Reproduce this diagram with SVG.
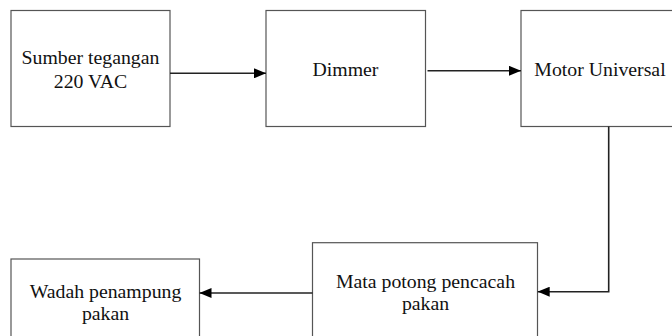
<svg xmlns="http://www.w3.org/2000/svg" width="672" height="336" viewBox="0 0 672 336">
<style>
.box{fill:#fff;stroke:#555;stroke-width:1.2}
.lbl{font-family:"Liberation Serif","Times New Roman",serif;font-size:19.8px;fill:#111;text-anchor:middle}
.con{fill:none;stroke:#222;stroke-width:1.6}
</style>
<defs>
<marker id="ah" viewBox="0 0 12 10" refX="12" refY="5" markerWidth="12" markerHeight="10" markerUnits="userSpaceOnUse" orient="auto">
<path d="M0,0 L12,5 L0,10 Z" fill="#000"/>
</marker>
</defs>
<rect width="672" height="336" fill="#fff"/>
<g id="sumber">
<rect class="box" x="11" y="10.5" width="159" height="116"/>
<text class="lbl" x="90.5" y="63.5">Sumber tegangan</text>
<text class="lbl" x="90.5" y="87.5">220 VAC</text>
</g>
<g id="dimmer">
<rect class="box" x="266" y="10.5" width="159.5" height="116"/>
<text class="lbl" x="345.5" y="76">Dimmer</text>
</g>
<g id="motor">
<rect class="box" x="521" y="10.5" width="160" height="116"/>
<text class="lbl" x="600" y="76">Motor Universal</text>
</g>
<g id="mata">
<rect class="box" x="312.5" y="242.7" width="225" height="110"/>
<text class="lbl" x="425.5" y="287.5">Mata potong pencacah</text>
<text class="lbl" x="425.5" y="309.5">pakan</text>
</g>
<g id="wadah">
<rect class="box" x="11" y="259" width="188.5" height="100"/>
<text class="lbl" x="105.5" y="297.5">Wadah penampung</text>
<text class="lbl" x="105.5" y="319.5">pakan</text>
</g>
<g id="connectors">
<path class="con" d="M170,73.3 H266" marker-end="url(#ah)"/>
<path class="con" d="M427.5,70.8 H521" marker-end="url(#ah)"/>
<path class="con" d="M608.7,126.5 V291.7 H537.7" marker-end="url(#ah)"/>
<path class="con" d="M312.5,293 H199.5" marker-end="url(#ah)"/>
</g>
</svg>
